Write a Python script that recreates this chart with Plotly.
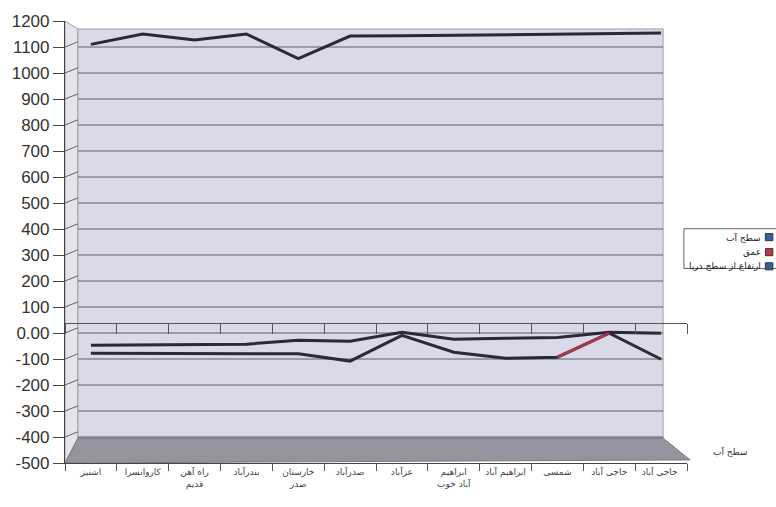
import plotly.graph_objects as go

# Stations along the section (left to right)
stations = [
    "اشنیز", "کاروانسرا", "راه آهن<br>قدیم", "بندرآباد", "خارستان<br>صدر",
    "صدرآباد", "عزآباد", "ابراهیم<br>آباد خوب", "ابراهیم آباد", "شمسی",
    "حاجی آباد", "حاجی آباد ",
]

# Series values (m)
water_level = [-47, -45, -43, -43, -28, -32, 3, -24, -20, -17, 3, -1]
depth = [-78, -78, -78, -78, -80, -108, -9, -74, -97, -93, -1, -101]
elevation = [1110, 1150, 1127, 1150, 1055, 1142, 1143, 1145, 1148, 1150, 1152, 1154]

series_names = ["سطح آب", "عمق", "ارتفاع از سطح دریا"]
series_colors = ["#3b5ea8", "#c0344a", "#2f5e9e"]

y_ticks = [1200, 1100, 1000, 900, 800, 700, 600, 500, 400, 300, 200, 100, 0,
           -100, -200, -300, -400, -500]
y_tick_text = [("0.00" if v == 0 else str(v)) for v in y_ticks]

LINE_DARK = "#2a2a36"
WALL = "#d9d9e7"
SIDE = "#e4e4ef"
FLOOR = "#94949e"
GRID = "#5e5e6c"

fig = go.Figure()

fig.add_trace(go.Scatter(x=stations, y=elevation, mode="lines",
                         line=dict(color=LINE_DARK, width=3), showlegend=False))
fig.add_trace(go.Scatter(x=stations, y=water_level, mode="lines",
                         line=dict(color=LINE_DARK, width=3), showlegend=False))
fig.add_trace(go.Scatter(x=stations, y=depth, mode="lines",
                         line=dict(color=LINE_DARK, width=3), showlegend=False))
# the rising stretch of the depth ribbon that shows its own colour
fig.add_trace(go.Scatter(x=stations[9:11], y=depth[9:11], mode="lines",
                         line=dict(color="#a8384e", width=3), showlegend=False))
# helper trace for the category axis drawn at the zero plane
fig.add_trace(go.Scatter(x=stations, y=[None] * len(stations), xaxis="x2",
                         mode="lines", showlegend=False, hoverinfo="skip"))

shapes = []
# side wall, back wall and floor of the 3D box
shapes.append(dict(type="path", xref="paper", yref="paper",
                   path="M 0,0 L 0.0208,0.0564 L 0.0208,0.982 L 0,1 Z",
                   fillcolor=SIDE, line=dict(color="#9a9aa6", width=1), layer="below"))
shapes.append(dict(type="rect", xref="paper", yref="paper",
                   x0=0.0208, x1=0.9616, y0=0.0564, y1=0.982,
                   fillcolor=WALL, line=dict(color="#a0a0ac", width=1), layer="below"))
shapes.append(dict(type="path", xref="paper", yref="paper",
                   path="M 0,0 L 1.005,0.007 L 0.9616,0.0564 L 0.0208,0.0564 Z",
                   fillcolor=FLOOR, line=dict(color="#7a7a84", width=1), layer="below"))
# horizontal grid on the back wall
for v in y_ticks[1:-1]:
    shapes.append(dict(type="line", xref="paper", yref="y",
                       x0=0.0208, x1=0.9616, y0=v, y1=v,
                       line=dict(color=GRID, width=1.2), layer="below"))
    shapes.append(dict(type="line", xref="paper", yref="y",
                       x0=0, x1=0.0208, y0=v, y1=v + 20,
                       line=dict(color=GRID, width=1), layer="below"))

# legend box
shapes.append(dict(type="rect", xref="paper", yref="paper",
                   x0=0.995, x1=1.16, y0=0.44, y1=0.53,
                   fillcolor="white", line=dict(color="#666", width=1)))
legend_y = [0.511, 0.477, 0.445]
for ly, col in zip(legend_y, series_colors):
    shapes.append(dict(type="rect", xref="paper", yref="paper",
                       x0=1.126, x1=1.138, y0=ly - 0.008, y1=ly + 0.008,
                       fillcolor=col, line=dict(color="#333", width=1)))

annotations = []
for ly, name in zip(legend_y, series_names):
    annotations.append(dict(xref="paper", yref="paper", x=1.122, y=ly,
                            text=name, showarrow=False, xanchor="right",
                            yanchor="middle",
                            font=dict(family="DejaVu Sans", size=9, color="#222")))
annotations.append(dict(xref="paper", yref="paper", x=1.07, y=0.025,
                        text="سطح آب", showarrow=False, xanchor="center",
                        yanchor="middle",
                        font=dict(family="DejaVu Sans", size=9, color="#333")))

fig.update_layout(
    width=776, height=507,
    margin=dict(l=62, r=89, t=20, b=44),
    paper_bgcolor="white",
    plot_bgcolor="white",
    showlegend=False,
    shapes=shapes,
    annotations=annotations,
    xaxis=dict(
        type="category", range=[-0.5, 11.5], showgrid=False,
        ticks="outside", ticklen=7, tickcolor="#555", tickson="boundaries",
        showline=True, linecolor="#444", linewidth=1.2,
        tickangle=0,
        tickfont=dict(family="DejaVu Sans", size=9, color="#444"),
    ),
    xaxis2=dict(
        type="category", matches="x", overlaying="x", anchor="free",
        position=0.3176, side="bottom", showgrid=False,
        showticklabels=False, ticks="outside", ticklen=10, tickcolor="#555",
        tickson="boundaries", showline=True, linecolor="#555", linewidth=1,
    ),
    yaxis=dict(
        range=[-500, 1200], tickvals=y_ticks, ticktext=y_tick_text,
        showgrid=False, zeroline=False,
        ticks="outside", ticklen=11, tickcolor="#444",
        showline=True, linecolor="#444", linewidth=1.2,
        tickfont=dict(family="Liberation Sans", size=17, color="#333"),
    ),
)

fig.write_html("out.html")
